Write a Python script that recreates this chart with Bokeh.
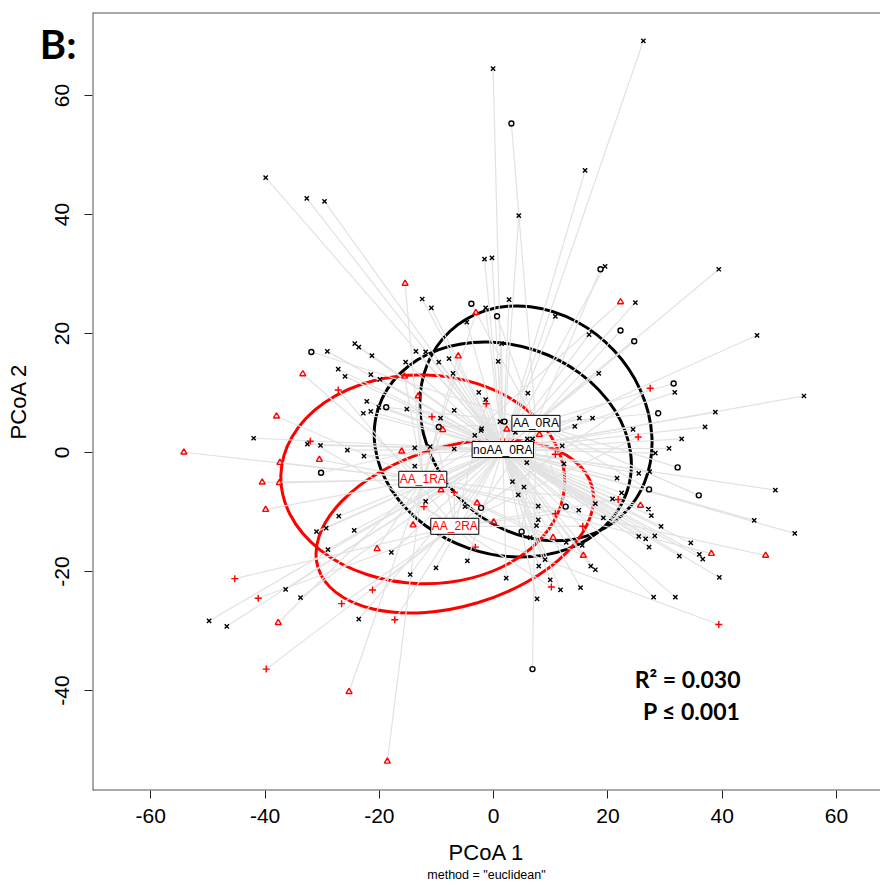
from bokeh.plotting import figure
from bokeh.models import Label, Span, FixedTicker, LinearAxis
from bokeh.embed import file_html
from bokeh.resources import INLINE

# group centroids (ordispider / ordiellipse centres), PCoA units
groups = ["noAA_0RA", "AA_0RA", "AA_1RA", "AA_2RA"]
centroid_x = [1.6, 7.4, -12.4, -6.8]
centroid_y = [0.5, 4.9, -4.5, -12.4]

# dispersion ellipses
ellipse_w = [45.9, 44.1, 49.7, 50.0]
ellipse_h = [35.1, 35.9, 35.1, 26.8]
ellipse_angle = [-0.33, -0.82, -0.03, 0.29]

# sample scores per group
noaa0_x = [26.2, -0.1, 16.0, 4.4, -1.6, -0.3, 19.5, 39.4, -12.5, 2.7, -39.9, -32.7, -29.6, 24.8,
           46.1, 31.7, 54.3, 38.8, 37.0, 24.4, 32.9, 30.7, 28.3, 27.3, 25.4, 49.3, 45.6, 52.7,
           27.1, 27.6, 29.3, 25.4, 26.6, 28.2, 27.2, 34.5, 32.5, 36.0, 36.6, 39.5, 28.0, 31.8,
           -29.1, -42.0, -32.6, -36.4, -33.8, -49.8, -46.7, -23.6, -30.3, -25.6, -22.7, -13.8,
           -11.1, -13.8, -11.9, -5.0, -27.1, -29.3, -31.0, -24.4, -29.0, -17.9, -14.6, -10.1,
           -4.6, 2.2, 7.8, 7.8, 4.3, 5.3, 3.3, 5.8, 12.7, 15.5, 17.0, 17.8, 19.2, 14.9, 7.9, 9.0,
           9.9, 11.7, 15.2, 7.6, -3.3, -2.2, -6.9, -10.9, -1.4, -4.7, 10.8, 16.7, -24.3, -23.6,
           -21.3, -13.6, -11.9, -15.4, -9.6, -7.8, 0.8, 18.4, -27.2, -26.0, -21.5, -19.9, -7.1,
           -2.6, -1.4, 6.0, -22.2, -22.8, -21.5, -20.1, -15.2, -9.3, -6.9, -2.1, 3.8, 1.1, 5.9,
           6.8, 15.0, 17.3, 14.2, 12.0, 12.3, 21.6, 22.4, 17.8, 7.5, 6.4, 20.8, 1.4]
noaa0_y = [69.2, 64.5, 47.4, 39.8, 32.5, 32.7, 31.3, 30.8, 25.8, 25.7, 46.2, 42.7, 42.2, 25.2,
           19.7, 10.1, 9.5, 6.8, 4.3, 3.9, 2.3, 0.7, -0.1, -3.2, -3.5, -6.3, -11.4, -13.6,
           -9.5, -10.6, -12.4, -14.1, -14.5, -14.0, -15.9, -15.2, -17.4, -17.1, -17.9, -21.0, -24.3, -24.3,
           17.0, 2.4, 1.4, -23.0, -24.4, -28.3, -29.2, -28.0, 1.2, 0.4, -0.6, 0.8,
           1.0, -2.3, -8.2, -9.1, -10.7, -12.7, -13.3, -13.1, -16.3, -16.8, -20.5, -19.4,
           -18.2, -21.1, -11.3, -9.0, -7.1, -5.8, -4.9, -1.7, -15.1, -15.6, -19.1, -19.7, -11.0, -9.7, -19.1, -18.0,
           -21.4, -23.1, -22.7, -24.6, 2.9, 3.7, 0.6, 24.3, 24.3, 21.9, 22.9, 19.8, 18.3, 17.7,
           16.3, 17.0, 16.9, 15.2, 15.2, 15.8, 15.3, 13.3, 14.0, 12.8, 13.1, 12.3, 13.3,
           10.1, 8.9, 10.0, 8.6, 6.6, 6.9, 7.6, 7.3, 5.8, 7.1, 4.0, 3.4, 5.2, 2.3,
           2.3, 5.8, 5.8, 4.4, 1.1, -1.9, -4.3, -6.8, -8.6, -12.3, -14.3, -7.8, 18.3]

aa0_x = [3.1, 18.7, 22.2, 24.6, 31.5, 28.8, 32.2, 27.2, 35.9, -3.9, 0.6, -31.9, -18.8, -30.2,
         -2.2, 4.9, 12.6, -9.6, 1.9, 6.8]
aa0_y = [55.3, 30.8, 20.5, 18.7, 11.6, 6.6, -2.5, -6.2, -7.2, 25.0, 22.9, 16.9, 7.6, -3.4,
         -9.3, -13.3, -9.1, 4.3, 5.2, -36.4]

aa1_x = [-15.5, 22.2, 25.7, 38.1, 47.6, -33.4, -38.0, -54.2, -37.4, -40.5, -37.5, -39.9, -37.7,
         -25.3, -18.6, -30.5, -16.1, -9.2, -14.1, -2.9, 0.0, -20.4, 10.4, 15.7, -8.9, -3.1,
         -6.2, -15.6, -13.2, 2.3, 8.0]
aa1_y = [28.4, 25.3, -8.9, -17.0, -17.3, 13.2, 6.1, 0.05, -1.7, -5.0, -5.1, -9.6, -28.6,
         -40.2, -51.9, -1.2, 0.2, -6.3, -12.2, -8.5, -11.7, -16.2, -14.3, -17.3, 3.8, 23.5,
         16.2, 12.8, 9.5, 3.9, 3.0]

aa2_x = [27.4, 25.3, -45.3, -41.2, -39.8, -26.6, -17.3, 39.4, -32.1, -6.9, -12.2, -3.2, 10.1,
         15.6, 10.8, -21.2, -27.2, -1.3, -10.8, 21.8, 10.8]
aa2_y = [10.8, 2.6, -21.2, -24.5, -36.4, -25.4, -28.1, -28.9, 1.9, -6.7, -9.1, -15.9, -22.6,
         -12.4, -10.3, -23.1, 10.5, 8.2, 6.0, -7.9, -0.3]

x_ticks = [-60, -40, -20, 0, 20, 40, 60]
y_ticks = [-40, -20, 0, 20, 40, 60]

scores = [(noaa0_x, noaa0_y), (aa0_x, aa0_y), (aa1_x, aa1_y), (aa2_x, aa2_y)]
colors = ["black", "black", "#ff0000", "#ff0000"]
markers = ["x", "circle", "triangle", "cross"]
msizes = [6, 5, 6, 7]

X0, X1 = -70.2, 67.7
Y0, Y1 = -56.8, 73.95

p = figure(width=880, height=884, x_range=(X0, X1), y_range=(Y0, Y1),
           output_backend="svg", toolbar_location=None,
           min_border_left=92, min_border_right=0, min_border_top=12, min_border_bottom=94)
p.outline_line_color = None
p.grid.visible = False

for ax, ticks in ((p.xaxis, x_ticks), (p.yaxis, y_ticks)):
    ax.ticker = FixedTicker(ticks=ticks)
    ax.major_label_overrides = {t: str(t) for t in ticks}
    ax.axis_line_color = None
    ax.minor_tick_line_color = None
    ax.major_tick_out = 8
    ax.major_tick_in = 0
    ax.major_tick_line_color = "#222222"
    ax.major_label_text_font = "Liberation Sans"
    ax.major_label_text_font_size = "21px"
    ax.major_label_text_color = "black"
    ax.axis_label_text_font = "Liberation Sans"
    ax.axis_label_text_font_size = "22px"
    ax.axis_label_text_font_style = "normal"
    ax.axis_label_text_color = "black"

p.xaxis.axis_label = "PCoA 1"
p.yaxis.axis_label = "PCoA 2"
p.xaxis.major_label_standoff = 10
p.xaxis.axis_label_standoff = 14
p.yaxis.major_label_orientation = "vertical"
p.yaxis.major_label_standoff = 15
p.yaxis.axis_label_standoff = 22

# sub-caption under the x axis title
sub = LinearAxis(ticker=FixedTicker(ticks=[]), axis_line_color=None, major_tick_line_color=None,
                 minor_tick_line_color=None, major_tick_out=0, major_label_standoff=0,
                 axis_label='method = "euclidean"', axis_label_standoff=0,
                 axis_label_text_font="Liberation Sans", axis_label_text_font_size="12.5px",
                 axis_label_text_font_style="normal", axis_label_text_color="black")
p.add_layout(sub, "below")

# panel letter, set in the left margin (annotations are clipped to the frame)
panel_y = 68.7
panel = LinearAxis(ticker=FixedTicker(ticks=[panel_y]), major_label_overrides={panel_y: "B:"},
                   axis_line_color=None, major_tick_line_color=None, minor_tick_line_color=None,
                   major_tick_out=0, major_label_standoff=-74, major_label_orientation="horizontal",
                   major_label_text_font="Lato", major_label_text_font_style="bold",
                   major_label_text_font_size="40px", major_label_text_color="black")
p.add_layout(panel, "left")

# plot box (left, top, bottom)
for loc, dim in ((Y1, "width"), (Y0, "width"), (X0, "height")):
    p.add_layout(Span(location=loc, dimension=dim, line_color="#555555", line_width=2))

# ellipses
p.ellipse(x=centroid_x, y=centroid_y, width=ellipse_w, height=ellipse_h, angle=ellipse_angle,
          fill_color=None, line_color=colors, line_width=3)

# spider lines
for (xs, ys), cx, cy in zip(scores, centroid_x, centroid_y):
    p.segment(x0=xs, y0=ys, x1=[cx] * len(xs), y1=[cy] * len(ys),
              line_color="#e2e2e2", line_width=1.2)

# points
for (xs, ys), col, mk, sz in zip(scores, colors, markers, msizes):
    p.scatter(x=xs, y=ys, marker=mk, size=sz, line_color=col, fill_color=None, line_width=1.4)

# centroid labels
for g, cx, cy, col in zip(groups, centroid_x, centroid_y, colors):
    p.add_layout(Label(x=cx, y=cy, text=g, text_align="center", text_baseline="middle",
                       text_font="Liberation Sans", text_font_size="12px", text_color=col,
                       background_fill_color="white", border_line_color="black",
                       border_line_width=1, padding=1))

p.add_layout(Label(x=43.2, y=-38.0, text="R² = 0.030", text_align="right", text_baseline="middle",
                   text_font="Lato", text_font_style="bold", text_font_size="23px", text_color="black"))
p.add_layout(Label(x=43.2, y=-43.4, text="P ≤ 0.001", text_align="right", text_baseline="middle",
                   text_font="Lato", text_font_style="bold", text_font_size="23px", text_color="black"))

open("out.html", "w").write(file_html(p, INLINE))
